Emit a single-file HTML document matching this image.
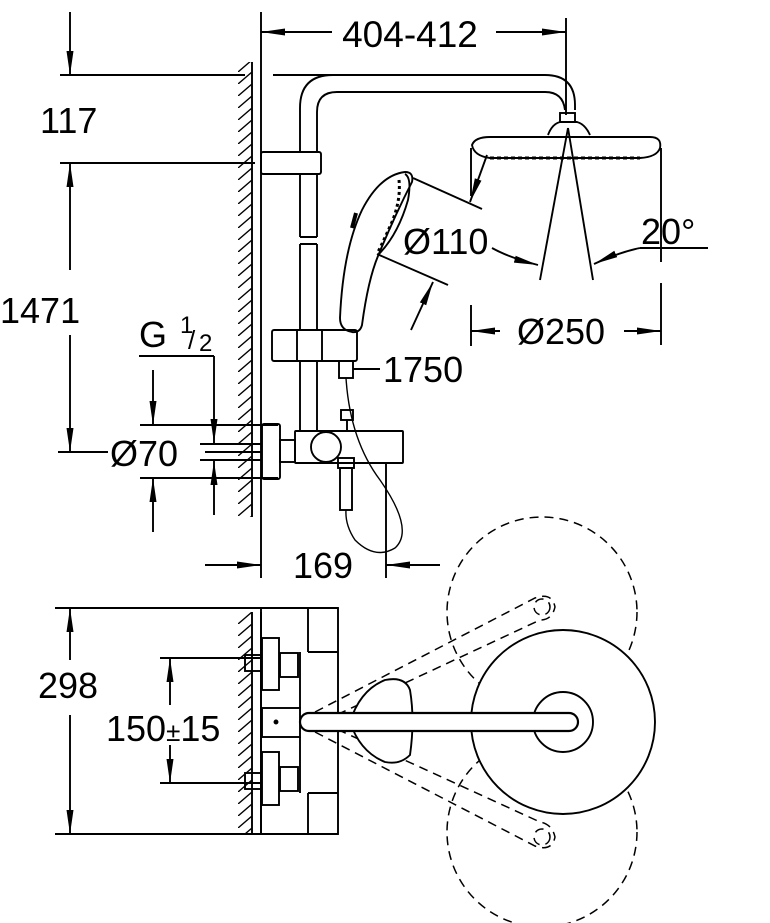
<!DOCTYPE html>
<html><head><style>
html,body{margin:0;padding:0;background:#fff;}
svg{display:block}
text{font-family:"Liberation Sans",sans-serif;fill:#000;}
</style></head><body>
<svg width="770" height="923" viewBox="0 0 770 923" xmlns="http://www.w3.org/2000/svg">
<defs>
<marker id="b" viewBox="0 0 24 10" refX="24" refY="5" markerWidth="24" markerHeight="10" markerUnits="userSpaceOnUse" orient="auto-start-reverse"><path d="M0,1.5 L24,5 L0,8.5 z" fill="#000"/></marker>
<pattern id="h" width="14" height="12" patternUnits="userSpaceOnUse"><path d="M0,12 L14,0" stroke="#000" stroke-width="1.4"/></pattern>
</defs>
<g fill="none" stroke="#000" stroke-width="1.9">
<rect x="238" y="62" width="14" height="455" fill="url(#h)" stroke="none"/>
<line x1="252" y1="62" x2="252" y2="517"/>
<line x1="261" y1="12" x2="261" y2="578"/>
<rect x="238" y="612" width="14" height="222" fill="url(#h)" stroke="none"/>
<line x1="252" y1="612" x2="252" y2="834"/>
<line x1="261" y1="612" x2="261" y2="834"/>

<line x1="261" y1="32" x2="332" y2="32" marker-start="url(#b)"/>
<line x1="496" y1="32" x2="566" y2="32" marker-end="url(#b)"/>
<line x1="566" y1="18" x2="566" y2="115"/>

<line x1="60" y1="75" x2="245" y2="75"/>
<line x1="60" y1="163" x2="255" y2="163"/>
<line x1="70" y1="12" x2="70" y2="75" marker-end="url(#b)"/>
<line x1="70" y1="163" x2="70" y2="270" marker-start="url(#b)"/>
<line x1="70" y1="335" x2="70" y2="452" marker-end="url(#b)"/>
<line x1="58" y1="452" x2="108" y2="452"/>

<line x1="139" y1="356" x2="214" y2="356"/>
<line x1="214" y1="356" x2="214" y2="443" marker-end="url(#b)"/>
<line x1="214" y1="515" x2="214" y2="461" marker-end="url(#b)"/>
<line x1="153" y1="370" x2="153" y2="425" marker-end="url(#b)"/>
<line x1="153" y1="532" x2="153" y2="478" marker-end="url(#b)"/>
<line x1="140" y1="425" x2="278" y2="425"/>
<line x1="140" y1="478" x2="278" y2="478"/>
<line x1="200" y1="444" x2="262" y2="444"/>
<line x1="205" y1="452" x2="262" y2="452"/>
<line x1="200" y1="460" x2="262" y2="460"/>

<path d="M273,75 L545,75 Q575,75 575,105 L575,110"/>
<path d="M300,152 L300,108 Q300,75 333,75"/>
<path d="M317,152 L317,112 Q317,92 337,92 L545,92 Q563,92 565,110"/>
<rect x="261" y="152" width="60" height="22" rx="2"/>
<line x1="300" y1="174" x2="300" y2="237"/><line x1="317" y1="174" x2="317" y2="237"/>
<line x1="300" y1="244" x2="300" y2="330"/><line x1="317" y1="244" x2="317" y2="330"/>
<line x1="300" y1="237" x2="317" y2="237"/><line x1="300" y1="244" x2="317" y2="244"/>
<rect x="272" y="330" width="85" height="31" rx="2"/>
<line x1="297" y1="330" x2="297" y2="361"/><line x1="322" y1="330" x2="322" y2="361"/>
<line x1="300" y1="361" x2="300" y2="431"/><line x1="317" y1="361" x2="317" y2="431"/>
<rect x="339" y="361" width="14" height="17"/>
<line x1="353" y1="369" x2="380" y2="369"/>

<rect x="560" y="113" width="15" height="9"/>
<path d="M548,135 Q552,124 560,122 L577,122 Q585,124 590,135"/>
<path d="M472,145 Q475,137 490,137 L650,137 Q662,137 660,148 Q657,157 640,158 L490,158 Q474,156 472,145 Z"/>
<path d="M490,158 L640,158" stroke-dasharray="4 3" stroke-width="3"/>
<line x1="471" y1="148" x2="471" y2="196"/>
<line x1="661" y1="148" x2="661" y2="262"/>
<line x1="661" y1="283" x2="661" y2="345"/>
<line x1="568" y1="128" x2="540" y2="280"/>
<line x1="568" y1="128" x2="593" y2="280"/>
<line x1="487" y1="155" x2="470" y2="202" marker-end="url(#b)"/>

<path d="M405,172 Q380,175 362,210 Q343,250 340,318 Q340,330 352,332 Q360,333 362,325 Q368,280 378,256 Q395,215 412,182 Q414,172 405,172 Z"/>
<path d="M405,174 Q412,178 408,200 Q398,235 378,255"/>
<path d="M399,180 Q401,200 392,222 Q384,240 378,252" stroke-width="3" stroke-dasharray="3 3"/>
<path d="M356,213 L352,228" stroke-width="4"/>
<line x1="413" y1="178" x2="482" y2="209"/>
<line x1="377" y1="254" x2="448" y2="285"/>
<line x1="411" y1="330" x2="433" y2="282" marker-end="url(#b)"/>
<path d="M492,248 Q510,258 538,265" marker-end="url(#b)"/>
<path d="M640,248 Q620,252 594,264" marker-end="url(#b)"/>
<line x1="640" y1="248" x2="708" y2="248"/>
<line x1="471" y1="305" x2="471" y2="346"/>
<line x1="471" y1="331" x2="500" y2="331" marker-start="url(#b)"/>
<line x1="624" y1="331" x2="661" y2="331" marker-end="url(#b)"/>

<rect x="262" y="424" width="18" height="55" rx="2"/>
<rect x="280" y="440" width="15" height="22"/>
<rect x="295" y="431" width="108" height="32" rx="1"/>
<circle cx="326" cy="447" r="15"/>
<rect x="341" y="410" width="12" height="10"/><line x1="347" y1="420" x2="347" y2="431"/>
<rect x="338" y="458" width="16" height="10"/>
<rect x="340" y="468" width="12" height="42"/>
<path d="M346,378 Q350,440 380,480 Q415,530 395,548 Q375,560 355,540 Q345,525 346,510" stroke-width="1.4"/>
<line x1="386" y1="463" x2="386" y2="578"/>
<line x1="205" y1="565" x2="261" y2="565" marker-end="url(#b)"/>
<line x1="440" y1="565" x2="386" y2="565" marker-end="url(#b)"/>

<line x1="55" y1="608" x2="338" y2="608"/>
<line x1="55" y1="834" x2="338" y2="834"/>
<line x1="70" y1="608" x2="70" y2="660" marker-start="url(#b)"/>
<line x1="70" y1="715" x2="70" y2="834" marker-end="url(#b)"/>
<line x1="160" y1="658" x2="262" y2="658"/>
<line x1="160" y1="783" x2="262" y2="783"/>
<line x1="170" y1="658" x2="170" y2="705" marker-start="url(#b)"/>
<line x1="170" y1="745" x2="170" y2="783" marker-end="url(#b)"/>
<rect x="261" y="608" width="77" height="226"/>
<line x1="308" y1="608" x2="308" y2="652"/><line x1="308" y1="793" x2="308" y2="834"/>
<line x1="308" y1="652" x2="338" y2="652"/><line x1="308" y1="793" x2="338" y2="793"/>
<line x1="300" y1="652" x2="300" y2="708"/><line x1="300" y1="737" x2="300" y2="793"/>
<rect x="262" y="638" width="17" height="52" fill="#fff"/>
<rect x="280" y="653" width="18" height="24"/>
<rect x="262" y="752" width="17" height="53" fill="#fff"/>
<rect x="280" y="767" width="18" height="24"/>
<rect x="245" y="655" width="16" height="16"/>
<rect x="245" y="773" width="16" height="16"/>
<g stroke-dasharray="9 6" stroke-width="1.5">
<circle cx="542" cy="612" r="95"/>
<circle cx="542" cy="832" r="95"/>
<path d="M315,712 L535,598 Q552,592 555,607 Q552,620 540,620 L330,718"/>
<path d="M315,732 L535,846 Q552,852 555,837 Q552,824 540,822 L330,726"/>
<circle cx="542" cy="607" r="8"/><circle cx="542" cy="837" r="8"/>
</g>
<circle cx="563" cy="722" r="92" fill="#fff"/>
<circle cx="563" cy="722" r="30"/>
<path d="M350,722 Q360,690 385,680 Q405,676 410,690 Q415,720 410,755 Q400,765 385,762 Q360,752 350,722 Z" fill="#fff"/>
<rect x="262" y="708" width="38" height="29" fill="#fff"/>
<circle cx="276" cy="722" r="1.5" fill="#000"/>
<rect x="300" y="713" width="278" height="18" rx="9" fill="#fff" stroke-width="2.2"/>
</g>
<g font-size="36">
<text x="410" y="47" text-anchor="middle" font-size="37">404-412</text>
<text x="40" y="133">117</text>
<text x="0" y="323">1471</text>
<text x="139" y="347">G</text>
<text x="180" y="333" font-size="24">1</text>
<text x="188" y="349" font-size="26">/</text>
<text x="199" y="351" font-size="24">2</text>
<text x="110" y="466">Ø70</text>
<text x="403" y="254">Ø110</text>
<text x="641" y="244">20°</text>
<text x="517" y="344">Ø250</text>
<text x="383" y="382">1750</text>
<text x="293" y="578">169</text>
<text x="38" y="698">298</text>
<text x="106" y="741">150<tspan font-size="26">±</tspan>15</text>
</g>
</svg>
</body></html>
